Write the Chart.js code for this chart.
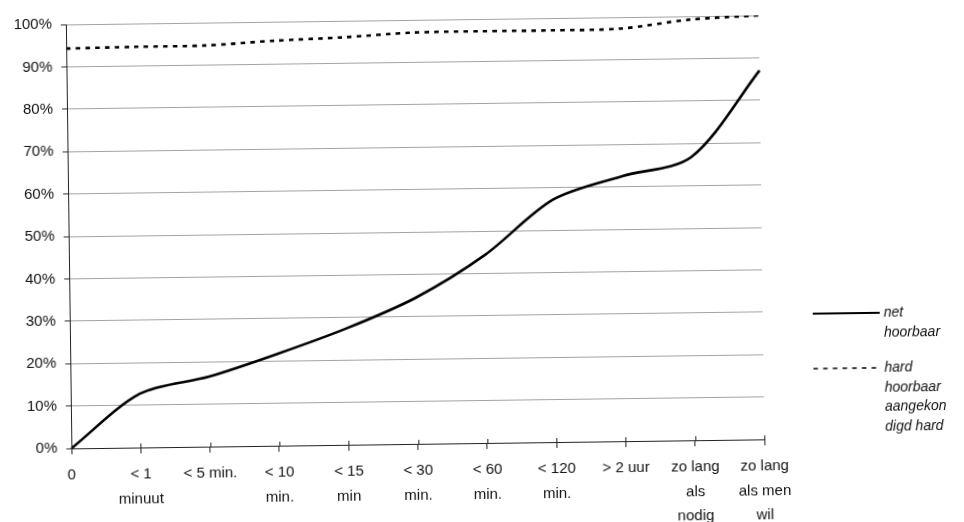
<!DOCTYPE html>
<html>
<head>
<meta charset="utf-8">
<script src="https://cdn.jsdelivr.net/npm/chart.js@4.4.1/dist/chart.umd.min.js"></script>
<style>
  html, body { margin: 0; padding: 0; background: #fff; overflow: hidden; }
  #wrap { width: 964px; height: 522px; position: relative; background: #fff; overflow: hidden; }
  /* the printed page sits very slightly askew */
  #c { display: block; transform: rotate(-0.75deg); transform-origin: 482px 261px; }
</style>
</head>
<body>
<div id="wrap"><canvas id="c" width="964" height="540"></canvas></div>
<script>
// Categories (waiting time), multi-line tick labels
const categories = [
  ['0'],
  ['< 1', 'minuut'],
  ['< 5 min.'],
  ['< 10', 'min.'],
  ['< 15', 'min'],
  ['< 30', 'min.'],
  ['< 60', 'min.'],
  ['< 120', 'min.'],
  ['> 2 uur'],
  ['zo lang', 'als', 'nodig'],
  ['zo lang', 'als men', 'wil']
];

// Cumulative percentages per series
const netHoorbaar      = [0, 12.7, 16.5, 21.7, 27.5, 34.5, 44.3, 57.2, 62.5, 66.8, 87];
const hardHoorbaar     = [94.3, 94.5, 94.6, 95.5, 96.1, 97.0, 97.1, 97.1, 97.3, 99.2, 100];
const aangekondigdHard = [null, null, null, null, null, null, null, null, null, null, null];

// Series names as they wrap in the legend
const seriesNames = [
  ['net', 'hoorbaar'],
  ['hard', 'hoorbaar'],
  ['aangekon', 'digd hard']
];

// Value axis
const yMin = 0, yMax = 100, yStep = 10;

const FONT = '"Liberation Sans", Arial, Helvetica, sans-serif';
const INK = '#111';

// Legend drawn at the right, with wrapped italic labels
const sideLegend = {
  id: 'sideLegend',
  afterDraw(chart) {
    const ctx = chart.ctx;
    const x0 = 812, x1 = 879, tx = 883;
    const rowTop = [318, 373, 412];
    const lineGap = 20;
    ctx.save();
    ctx.font = 'italic 14px ' + FONT;
    ctx.textBaseline = 'middle';
    ctx.textAlign = 'left';
    chart.data.datasets.forEach((ds, i) => {
      const y = rowTop[i];
      if (ds.borderColor && ds.borderColor !== 'rgba(0,0,0,0)') {
        ctx.strokeStyle = ds.borderColor;
        ctx.lineWidth = ds.legendWidth || 1.5;
        ctx.setLineDash(ds.borderDash || []);
        ctx.beginPath();
        ctx.moveTo(x0, y);
        ctx.lineTo(x1, y);
        ctx.stroke();
        ctx.setLineDash([]);
      }
      ctx.fillStyle = INK;
      ds.legendLines.forEach((t, k) => ctx.fillText(t, tx, y + k * lineGap));
    });
    ctx.restore();
  }
};

// Category ticks cross the axis line: add the short upper halves
const crossTicks = {
  id: 'crossTicks',
  afterDraw(chart) {
    const xs = chart.scales.x, ctx = chart.ctx;
    const y = chart.chartArea.bottom;
    ctx.save();
    ctx.strokeStyle = '#222';
    ctx.lineWidth = 1;
    ctx.beginPath();
    xs.ticks.forEach((t, i) => {
      const px = Math.round(xs.getPixelForTick(i)) + 0.5;
      ctx.moveTo(px, y - 4);
      ctx.lineTo(px, y);
    });
    ctx.stroke();
    ctx.restore();
  }
};

new Chart(document.getElementById('c'), {
  type: 'line',
  data: {
    labels: categories,
    datasets: [
      {
        label: seriesNames[0].join(' '),
        legendLines: seriesNames[0],
        data: netHoorbaar,
        borderColor: '#000',
        borderWidth: 2.6,
        legendWidth: 2,
        tension: 0.3,
        pointRadius: 0,
        fill: false
      },
      {
        label: seriesNames[1].join(' '),
        legendLines: seriesNames[1],
        data: hardHoorbaar,
        borderColor: '#000',
        borderWidth: 2.6,
        borderDash: [4.5, 5.2],
        legendWidth: 1.6,
        borderCapStyle: 'butt',
        tension: 0.3,
        pointRadius: 0,
        fill: false
      },
      {
        label: seriesNames[2].join(' '),
        legendLines: seriesNames[2],
        data: aangekondigdHard,
        borderColor: 'rgba(0,0,0,0)',
        borderWidth: 0,
        pointRadius: 0,
        fill: false
      }
    ]
  },
  options: {
    responsive: false,
    animation: false,
    devicePixelRatio: 1,
    layout: { padding: { left: 0, top: 19, right: 202, bottom: 0 } },
    plugins: {
      legend: { display: false },
      tooltip: { enabled: false }
    },
    scales: {
      x: {
        type: 'category',
        offset: false,
        afterFit(scale) { scale.height = 97; },
        grid: {
          drawOnChartArea: false,
          drawTicks: true,
          tickLength: 6,
          color: '#222',
          tickColor: '#222'
        },
        border: { display: true, color: '#222', width: 1 },
        ticks: {
          autoSkip: false,
          maxRotation: 0,
          minRotation: 0,
          padding: 9,
          color: INK,
          font: { family: FONT, size: 15, lineHeight: 1.62 }
        }
      },
      y: {
        min: yMin,
        max: yMax,
        afterFit(scale) { scale.width = 69; },
        grid: {
          color: '#a3a3a3',
          lineWidth: 1,
          drawTicks: true,
          tickLength: 5,
          tickColor: '#333'
        },
        border: { display: true, color: '#222', width: 1 },
        ticks: {
          stepSize: yStep,
          padding: 9,
          color: INK,
          font: { family: FONT, size: 15 },
          callback: v => v + '%'
        }
      }
    }
  },
  plugins: [sideLegend, crossTicks]
});
</script>
</body>
</html>
